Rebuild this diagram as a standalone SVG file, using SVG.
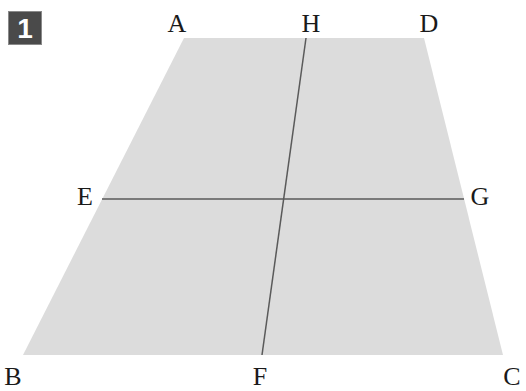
<svg xmlns="http://www.w3.org/2000/svg" width="526" height="391" viewBox="0 0 526 391">
<style>
.lbl{font-family:"Liberation Serif","Times New Roman",serif;font-size:26px;fill:#1a1a1a;text-anchor:middle}
.seg{stroke:#5a5a5a;stroke-width:1.5;fill:none}
</style>
<rect width="526" height="391" fill="#ffffff"/>
<g id="badge">
<rect x="8.5" y="11.5" width="33" height="33" fill="#4a4a4a" stroke="#8a8a8a" stroke-width="1"/>
<text x="25" y="38" font-family="Liberation Sans,Arial,sans-serif" font-size="28" font-weight="bold" fill="#ffffff" text-anchor="middle">1</text>
</g>
<g id="trapezoid">
<polygon points="184,38 424,38 503,355 23,355" fill="#dcdcdc"/>
</g>
<g id="connectors">
<line class="seg" x1="306" y1="38" x2="262" y2="355"/>
<line class="seg" x1="102" y1="199" x2="464" y2="199"/>
</g>
<g id="labels">
<text class="lbl" x="177" y="32">A</text>
<text class="lbl" x="311" y="32">H</text>
<text class="lbl" x="429" y="32">D</text>
<text class="lbl" x="85" y="205">E</text>
<text class="lbl" x="480" y="205">G</text>
<text class="lbl" x="13" y="385">B</text>
<text class="lbl" x="260" y="385">F</text>
<text class="lbl" x="512" y="385">C</text>
</g>
</svg>
